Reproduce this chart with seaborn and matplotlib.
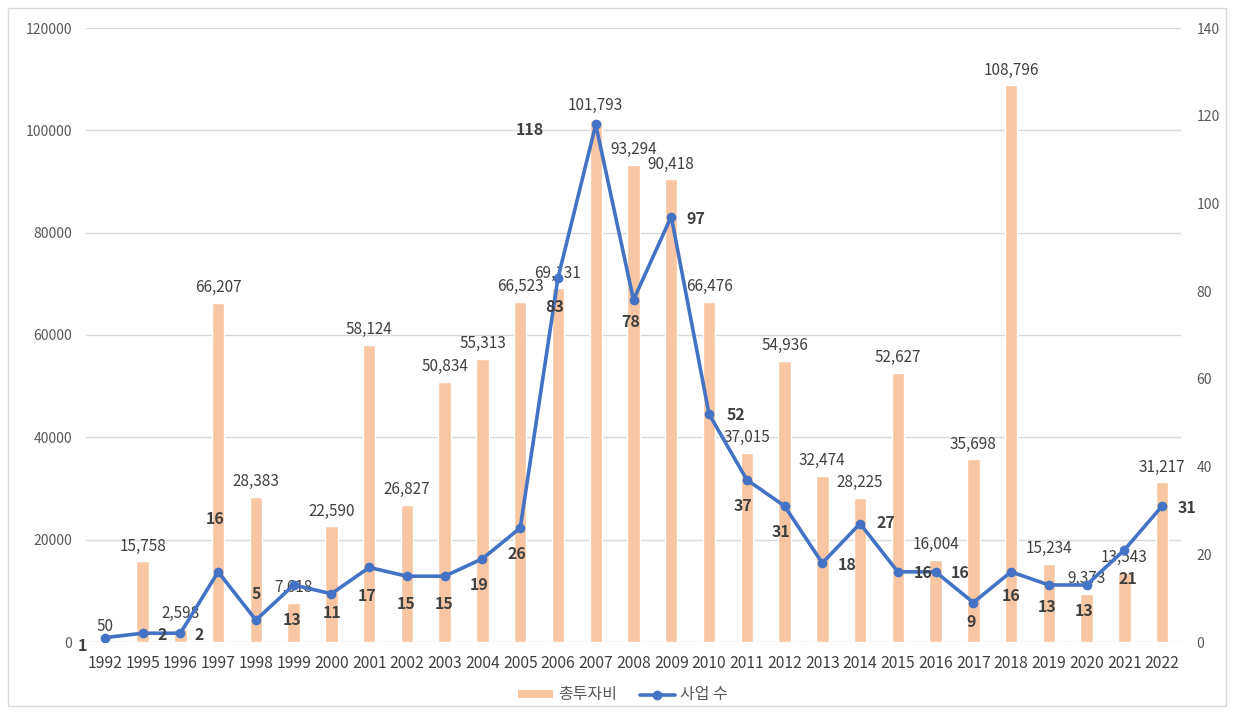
import numpy as np
import pandas as pd
import matplotlib
matplotlib.use("Agg")
import matplotlib.pyplot as plt
from matplotlib.patches import Rectangle, Patch
from matplotlib.lines import Line2D
import seaborn as sns

years = ["1992", "1995", "1996", "1997", "1998", "1999", "2000", "2001", "2002", "2003",
         "2004", "2005", "2006", "2007", "2008", "2009", "2010", "2011", "2012", "2013",
         "2014", "2015", "2016", "2017", "2018", "2019", "2020", "2021", "2022"]
invest = [50, 15758, 2598, 66207, 28383, 7618, 22590, 58124, 26827, 50834,
          55313, 66523, 69131, 101793, 93294, 90418, 66476, 37015, 54936, 32474,
          28225, 52627, 16004, 35698, 108796, 15234, 9373, 13543, 31217]
projects = [1, 2, 2, 16, 5, 13, 11, 17, 15, 15,
            19, 26, 83, 118, 78, 97, 52, 37, 31, 18,
            27, 16, 16, 9, 16, 13, 13, 21, 31]
left_ticks = [0, 20000, 40000, 60000, 80000, 100000, 120000]
right_ticks = [0, 20, 40, 60, 80, 100, 120, 140]
bar_name = "총투자비"
line_name = "사업 수"

# label offsets for line labels (pixels: dx, dy downward positive)
line_label_offsets = [(-22, 8), (20, 2), (19, 2), (-3, -53), (0, -26), (-2, 35), (1, 19), (-2, 29), (-1, 28), (-1, 28),
                      (-3, 26), (-3, 26), (-3, 29), (-66, 6), (-3, 22), (25, 2), (27, 1), (-4, 26), (-4, 26), (25, 2),
                      (26, -1), (25, 1), (25, 1), (-2, 19), (0, 24), (-2, 22), (-2, 26), (4, 29), (25, 2)]

font_fam = ["Noto Sans CJK KR", "DejaVu Sans"]
sns.set_theme(style="white")
plt.rcParams["font.family"] = font_fam

W, H, DPI = 1234, 712, 100
fig = plt.figure(figsize=(W / DPI, H / DPI), dpi=DPI)
ax = fig.add_axes([86 / W, 1 - 642 / H, (1181 - 86) / W, (642 - 28) / H])

df = pd.DataFrame({"year": years, "invest": invest, "projects": projects})
bar_color = "#F8C6A2"
line_color = "#4472C4"
text_color = "#404040"
tick_color = "#595959"

sns.barplot(data=df, x="year", y="invest", color=bar_color, width=0.33,
            saturation=1, ax=ax, zorder=2)
ax.set_ylim(0, 120000)
ax.set_xlim(-0.5, len(years) - 0.5)
ax.set_yticks(left_ticks)
ax.set_yticklabels([str(t) for t in left_ticks])
ax.yaxis.grid(True, color="#D9D9D9", linewidth=1)
ax.set_axisbelow(True)
for s in ax.spines.values():
    s.set_visible(False)
ax.set_xlabel("")
ax.set_ylabel("")
ax.tick_params(axis="both", length=0, labelsize=10, colors=tick_color)
ax.tick_params(axis="y", pad=10)
ax.tick_params(axis="x", pad=9, labelsize=11.3, labelcolor=text_color)

for i, v in enumerate(invest):
    ax.annotate(f"{v:,}", (i, v), xytext=(0, 11), textcoords="offset points",
                ha="center", va="center", fontsize=11, color=text_color, zorder=5)

ax2 = ax.twinx()
ax2.set_position(ax.get_position())
pos = np.arange(len(years))
sns.lineplot(x=pos, y=projects, ax=ax2, color=line_color, linewidth=2.6,
             marker="o", markersize=7, markeredgewidth=0, zorder=4)
ax2.set_ylim(0, 140)
ax2.set_xlim(-0.5, len(years) - 0.5)
ax2.set_yticks(right_ticks)
ax2.set_yticklabels([str(t) for t in right_ticks])
ax2.tick_params(axis="y", length=0, labelsize=10, colors=tick_color, pad=11)
ax2.grid(False)
for s in ax2.spines.values():
    s.set_visible(False)
ax2.set_ylabel("")

for i, v in enumerate(projects):
    dx, dy = line_label_offsets[i]
    ax2.annotate(str(v), (i, v), xytext=(dx * 0.72, -dy * 0.72), textcoords="offset points",
                 ha="center", va="center", fontsize=11.5, fontweight="bold", color=text_color, zorder=6)

handles = [Patch(facecolor=bar_color, edgecolor="none"),
           Line2D([0], [0], color=line_color, linewidth=2.6, marker="o", markersize=6)]
fig.legend(handles, [bar_name, line_name], loc="center", bbox_to_anchor=(623 / W, 1 - 695 / H),
           ncol=2, frameon=False, fontsize=11.5, labelcolor=tick_color, handlelength=2.2,
           handleheight=0.45, columnspacing=1.4, handletextpad=0.35)

fig.patches.append(Rectangle((8 / W, 6 / H), (1226 - 8) / W, (704 - 6) / H, transform=fig.transFigure,
                             fill=False, edgecolor="#D9D9D9", linewidth=1))

fig.savefig("out.png", dpi=DPI)
